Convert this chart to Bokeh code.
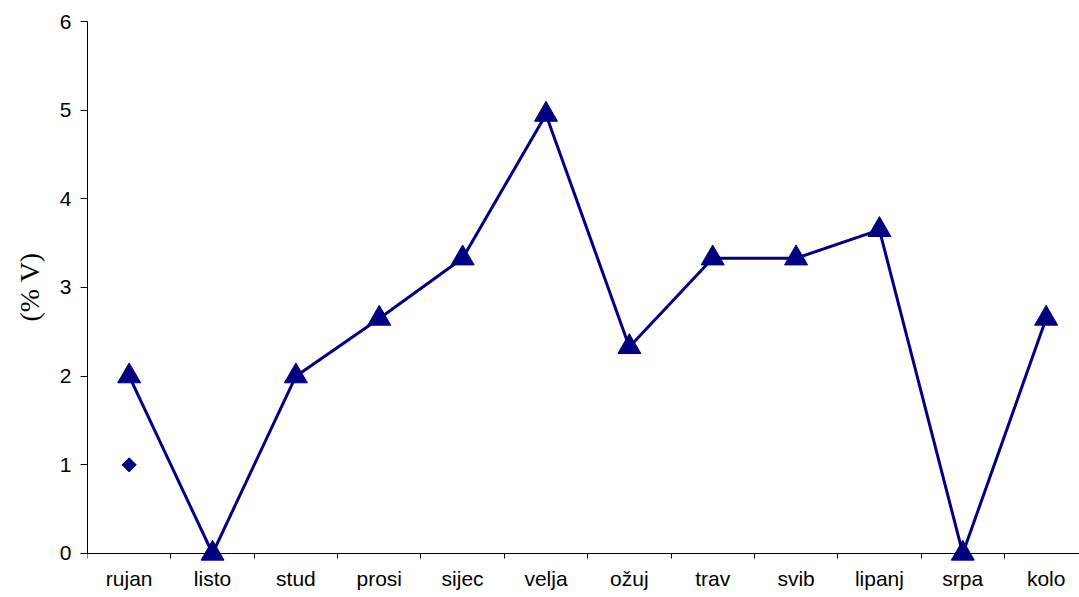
from bokeh.plotting import figure
from bokeh.models import FixedTicker, Range1d, Title
from bokeh.embed import file_html
from bokeh.resources import INLINE
import math

months = ["rujan", "listo", "stud", "prosi", "sijec", "velja", "ožuj", "trav", "svib", "lipanj", "srpa", "kolo"]
series_a = [2.0, 0.0, 2.0, 2.65, 3.33, 4.95, 2.33, 3.33, 3.33, 3.65, 0.0, 2.65]
series_b_months = ["rujan"]
series_b = [1.0]
y_ticks = [0, 1, 2, 3, 4, 5, 6]
y_title = "(% V)"

xpos = list(range(1, len(months) + 1))
xb = [months.index(m) + 1 for m in series_b_months]

p = figure(width=1079, height=595, output_backend="svg", toolbar_location=None,
           x_range=Range1d(0.5, 12.4), y_range=Range1d(-0.4737, 6),
           min_border_left=87, min_border_right=0, min_border_top=21, min_border_bottom=0)
p.outline_line_color = None
p.xgrid.visible = False
p.ygrid.visible = False
p.background_fill_color = "white"
p.border_fill_color = "white"

navy = "#000080"
p.line(xpos, series_a, line_color=navy, line_width=3)
p.scatter(xpos, series_a, marker="triangle", size=23, fill_color=navy, line_color=navy)
p.scatter(xb, series_b, marker="square", size=10, angle=math.pi / 4, fill_color=navy, line_color=navy)

# x axis
p.xaxis.fixed_location = 0
p.xaxis.ticker = FixedTicker(ticks=xpos, minor_ticks=[i + 0.5 for i in range(0, 13)])
p.xaxis.major_label_overrides = {i + 1: m for i, m in enumerate(months)}
p.xaxis.major_tick_line_color = None
p.xaxis.major_tick_out = 5
p.xaxis.major_tick_in = 0
p.xaxis.minor_tick_out = 5
p.xaxis.minor_tick_in = 0
p.xaxis.minor_tick_line_color = "black"
p.xaxis.axis_line_color = "black"
p.xaxis.major_label_text_font = "Liberation Sans"
p.xaxis.major_label_text_font_size = "21px"
p.xaxis.major_label_text_color = "black"
p.xaxis.major_label_standoff = 9

# y axis
p.yaxis.ticker = FixedTicker(ticks=y_ticks)
p.yaxis.bounds = (0, 6)
p.yaxis.minor_tick_line_color = None
p.yaxis.major_tick_out = 7
p.yaxis.major_tick_in = 0
p.yaxis.major_tick_line_color = "black"
p.yaxis.axis_line_color = "black"
p.yaxis.major_label_text_font = "Liberation Sans"
p.yaxis.major_label_text_font_size = "21px"
p.yaxis.major_label_text_color = "black"
p.yaxis.major_label_standoff = 9

p.add_layout(Title(text=y_title, align="left", offset=274, standoff=23,
                   text_font="Liberation Serif", text_font_style="normal",
                   text_font_size="28px", text_color="black"), "left")

open("out.html", "w").write(file_html(p, INLINE))
